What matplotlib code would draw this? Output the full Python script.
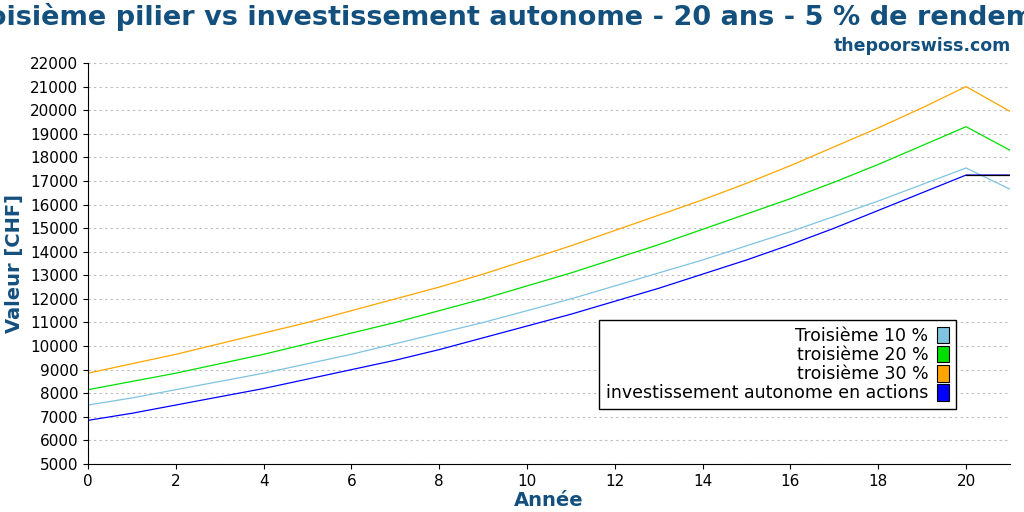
import matplotlib.pyplot as plt
from matplotlib.patches import Patch

years = list(range(22))
autonome = [6850, 7150, 7500, 7850, 8200, 8600, 9000, 9400, 9850, 10350, 10850,
            11350, 11900, 12450, 13050, 13650, 14300, 15000, 15750, 16500, 17250, 17250]
t10 = [7500, 7800, 8150, 8500, 8850, 9250, 9650, 10100, 10550, 11000, 11500,
       12000, 12550, 13100, 13650, 14250, 14850, 15500, 16150, 16850, 17550, 16650]
t20 = [8150, 8500, 8850, 9250, 9650, 10100, 10550, 11000, 11500, 12000, 12550,
       13100, 13700, 14300, 14950, 15600, 16250, 16950, 17700, 18500, 19300, 18300]
t30 = [8850, 9250, 9650, 10100, 10550, 11000, 11500, 12000, 12500, 13050, 13650,
       14250, 14900, 15550, 16200, 16900, 17650, 18450, 19250, 20100, 21000, 19950]

names = ["Troisième 10 %", "troisième 20 %", "troisième 30 %",
         "investissement autonome en actions"]
colors = ["#7ec4e0", "#00e000", "#ffa500", "#0000ff"]
series = [t10, t20, t30, autonome]
navy = "#14507e"

fig = plt.figure(figsize=(10.24, 5.12), dpi=100)
ax = fig.add_axes([88/1024, 48/512, 922/1024, 401/512])
for s, c in zip(series, colors):
    ax.plot(years, s, color=c, lw=0.9)
ax.plot([20, 21], [17250, 17250], color="black", lw=0.9)

ax.set_xlim(0, 21)
ax.set_ylim(5000, 22000)
ax.set_xticks(range(0, 21, 2))
ax.set_yticks(range(5000, 22001, 1000))
ax.tick_params(labelsize=11)
ax.grid(axis="y", linestyle=(0, (2, 3)), color="#bbbbbb", lw=0.8)
for sp in ["top", "right"]:
    ax.spines[sp].set_visible(False)
ax.set_xlabel("Année", fontsize=14, fontweight="bold", color=navy, labelpad=2)
ax.set_ylabel("Valeur [CHF]", fontsize=14, fontweight="bold", color=navy)

handles = [Patch(facecolor=c, edgecolor="black", lw=0.8) for c in colors]
leg = ax.legend(handles, names, loc="lower right", bbox_to_anchor=(0.951, 0.115),
                fontsize=12.5, markerfirst=False, fancybox=False, framealpha=1,
                edgecolor="black", handlelength=0.7, handleheight=1.1,
                borderpad=0.4, labelspacing=0.05, handletextpad=0.5)
for t in leg.get_texts():
    t.set_ha("right")

fig.text(0.51, 0.966, "Troisième pilier vs investissement autonome - 20 ans - 5 % de rendement",
         ha="center", va="center", fontsize=19.5, fontweight="bold", color=navy)
fig.text(0.987, 0.91, "thepoorswiss.com", ha="right", va="center",
         fontsize=12.5, fontweight="bold", color=navy)

fig.savefig("out.png")
